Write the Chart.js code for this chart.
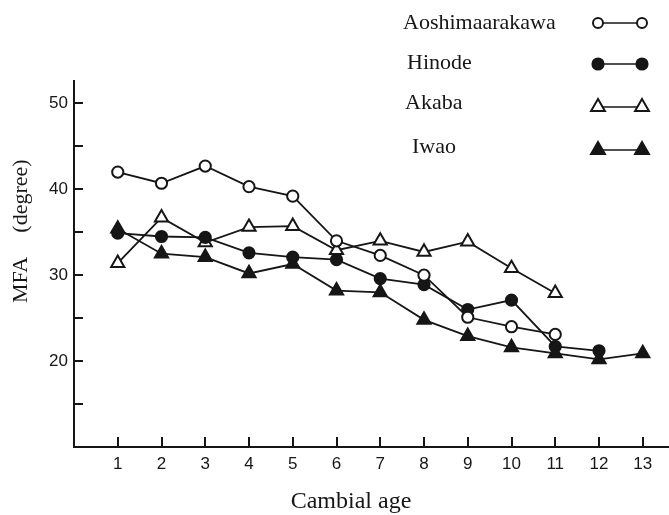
<!DOCTYPE html>
<html>
<head>
<meta charset="utf-8">
<script src="https://cdn.jsdelivr.net/npm/chart.js"></script>
<style>
  html, body { margin: 0; padding: 0; background: #fff; }
  .chart-box { width: 669px; height: 515px; position: relative; }
</style>
</head>
<body>
<div class="chart-box"><canvas id="mfa"></canvas></div>
<script>
// cambial age (x) and MFA values
const cambialAge = [1, 2, 3, 4, 5, 6, 7, 8, 9, 10, 11, 12, 13];
const yTickLabels = [20, 30, 40, 50];
const yMinorTicks = [15, 20, 25, 30, 35, 40, 45, 50];

const siteNames = ["Aoshimaarakawa", "Hinode", "Akaba", "Iwao"];
const aoshimaarakawa = [42.0, 40.7, 42.7, 40.3, 39.2, 34.0, 32.3, 30.0, 25.1, 24.0, 23.1];
const hinode = [34.9, 34.5, 34.4, 32.6, 32.1, 31.8, 29.6, 28.9, 26.0, 27.1, 21.7, 21.2];
const akaba = [31.4, 36.7, 33.8, 35.6, 35.7, 32.9, 34.0, 32.7, 33.9, 30.8, 27.9];
const iwao = [35.4, 32.5, 32.1, 30.2, 31.3, 28.2, 28.0, 24.8, 22.9, 21.6, 20.9, 20.2, 20.9];

const INK = "#161616";
const SERIF = "'Liberation Serif', 'DejaVu Serif', serif";
const SANS = "'Liberation Sans', Arial, sans-serif";

const toPoints = (vals) => vals.map((v, i) => ({ x: cambialAge[i], y: v }));

// marker look for each site: [shape, filled]
const markerStyles = [
  ["circle", false],
  ["circle", true],
  ["triangle", false],
  ["triangle", true],
];

const seriesValues = [aoshimaarakawa, hinode, akaba, iwao];

const datasets = seriesValues.map((vals, i) => {
  const [shape, filled] = markerStyles[i];
  return {
    label: siteNames[i],
    data: toPoints(vals),
    borderColor: INK,
    borderWidth: 1.8,
    pointStyle: shape,
    pointRadius: shape === "circle" ? 5.6 : 7.6,
    pointBorderWidth: 2,
    pointBorderColor: INK,
    pointBackgroundColor: filled ? INK : "#fff",
    tension: 0,
    fill: false,
    clip: false,
  };
});

function marker(ctx, shape, filled, x, y, r) {
  ctx.save();
  ctx.beginPath();
  if (shape === "circle") {
    ctx.arc(x, y, r, 0, Math.PI * 2);
  } else {
    ctx.moveTo(x, y - r);
    ctx.lineTo(x + r * 0.866, y + r / 2);
    ctx.lineTo(x - r * 0.866, y + r / 2);
    ctx.closePath();
  }
  ctx.fillStyle = filled ? INK : "#fff";
  ctx.fill();
  ctx.lineWidth = 2;
  ctx.strokeStyle = INK;
  ctx.stroke();
  ctx.restore();
}

// inward tick marks, axis titles and the key on the upper right
const decorations = {
  id: "decorations",
  afterDraw(chart) {
    const { ctx, scales } = chart;
    const xs = scales.x, ys = scales.y;
    const left = chart.chartArea.left, bottom = chart.chartArea.bottom;
    ctx.save();
    ctx.strokeStyle = INK;
    ctx.lineWidth = 2;
    yMinorTicks.forEach((v) => {
      const py = Math.round(ys.getPixelForValue(v));
      ctx.beginPath();
      ctx.moveTo(left, py);
      ctx.lineTo(left + 9, py);
      ctx.stroke();
    });
    cambialAge.forEach((v) => {
      const px = Math.round(xs.getPixelForValue(v));
      ctx.beginPath();
      ctx.moveTo(px, bottom);
      ctx.lineTo(px, bottom - 10);
      ctx.stroke();
    });

    ctx.fillStyle = INK;
    ctx.textBaseline = "middle";
    ctx.textAlign = "center";
    ctx.font = "24px " + SERIF;
    ctx.fillText("Cambial age", 351, 502);

    ctx.save();
    ctx.translate(21, 0);
    ctx.rotate(-Math.PI / 2);
    ctx.font = "22px " + SERIF;
    ctx.fillText("MFA", -280, 0);
    ctx.fillText("(degree)", -196, 0);
    ctx.restore();

    // key
    const keyText = [[403, 23], [407, 63], [405, 103], [412, 147]];
    const keyMarkY = [23, 64, 107, 150];
    ctx.textAlign = "left";
    ctx.font = "22px " + SERIF;
    siteNames.forEach((name, i) => {
      ctx.fillText(name, keyText[i][0], keyText[i][1]);
      const [shape, filled] = markerStyles[i];
      const my = keyMarkY[i];
      ctx.lineWidth = 1.5;
      ctx.beginPath();
      ctx.moveTo(598, my);
      ctx.lineTo(642, my);
      ctx.stroke();
      const r = shape === "circle" ? (filled ? 5.6 : 5) : 8;
      marker(ctx, shape, filled, 598, my, r);
      marker(ctx, shape, filled, 642, my, r);
    });
    ctx.restore();
  },
};

new Chart(document.getElementById("mfa"), {
  type: "line",
  data: { datasets },
  options: {
    responsive: true,
    maintainAspectRatio: false,
    animation: false,
    layout: { autoPadding: false, padding: { top: 81, left: 0, right: 0, bottom: 0 } },
    plugins: {
      legend: { display: false },
      tooltip: { enabled: false },
    },
    scales: {
      x: {
        type: "linear",
        min: 0,
        max: 13.6,
        afterFit: (s) => { s.height = 68; },
        afterBuildTicks: (s) => { s.ticks = cambialAge.map((v) => ({ value: v })); },
        border: { display: true, width: 2, color: INK },
        grid: { drawOnChartArea: false, drawTicks: false },
        ticks: {
          padding: 7,
          color: INK,
          autoSkip: false,
          maxRotation: 0,
          font: { family: SANS, size: 17 },
          callback: (v) => String(v),
        },
      },
      y: {
        min: 10,
        max: 52.6,
        afterFit: (s) => { s.width = 74; },
        afterBuildTicks: (s) => { s.ticks = yTickLabels.map((v) => ({ value: v })); },
        border: { display: true, width: 2, color: INK },
        grid: { drawOnChartArea: false, drawTicks: false },
        ticks: {
          padding: 6,
          color: INK,
          font: { family: SANS, size: 17 },
          callback: (v) => String(v),
        },
      },
    },
  },
  plugins: [decorations],
});
</script>
</body>
</html>
